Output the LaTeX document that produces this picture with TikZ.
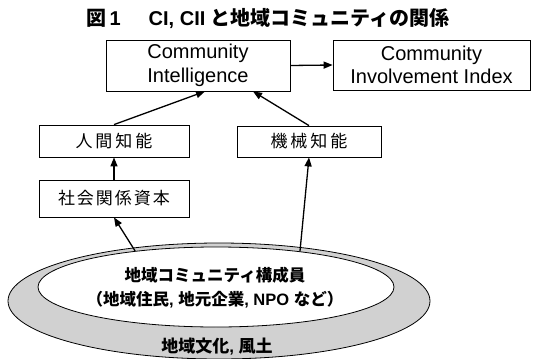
\documentclass[tikz,border=0pt]{standalone}
\usepackage{fontspec}
\setmainfont{Liberation Sans}
\newfontfamily\jp{Noto Sans CJK JP}
\usetikzlibrary{arrows.meta,shapes.geometric}
\begin{document}
\begin{tikzpicture}[x=1pt,y=-1pt,
  box/.style={draw,line width=0.8pt,inner sep=0pt,align=center},
  conn/.style={line width=1.3pt,-{Triangle[length=9pt,width=7pt]}},
  ell/.style={draw,line width=0.8pt,ellipse,inner sep=0pt},
  jpbox/.style={box,font=\jp\fontsize{17}{20}\selectfont},
  elltext/.style={font=\bfseries\fontsize{16.5}{18}\selectfont}]
\useasboundingbox (0,0) rectangle (536,359);
\node[font=\bfseries\fontsize{20}{22}\selectfont] (title) at (268,18) {{\jp 図}\,1\hspace{28pt}CI, CII {\jp と地域コミュニティの関係}};
\node[box,minimum width=184pt,minimum height=51pt,font=\fontsize{20}{23.5}\selectfont] (ci) at (198,65.5) {Community\\Intelligence};
\node[box,minimum width=197pt,minimum height=50pt,font=\fontsize{20}{23.5}\selectfont] (cii) at (431.5,65) {Community\\Involvement Index};
\node[jpbox,minimum width=150pt,minimum height=32pt] (hum) at (114,141) {人\kern3pt 間\kern3pt 知\kern3pt 能};
\node[jpbox,minimum width=144pt,minimum height=31pt] (mach) at (309,141.5) {機\kern3pt 械\kern3pt 知\kern3pt 能};
\node[jpbox,minimum width=150pt,minimum height=37pt] (soc) at (114,198.5) {社\kern2pt 会\kern2pt 関\kern2pt 係\kern2pt 資\kern2pt 本};
\node[ell,fill=black!18,minimum width=422pt,minimum height=116pt] (outer) at (219,301) {};
\node[ell,fill=white,minimum width=356pt,minimum height=80pt] (inner) at (216,287) {};
\node[elltext] (members) at (215,275) {\jp 地域コミュニティ構成員};
\node[elltext] (examples) at (215,300) {{\jp （地域住民}, {\jp 地元企業}, NPO {\jp など）}};
\node[elltext,font=\bfseries\fontsize{17}{19}\selectfont] (culture) at (217,347) {{\jp 地域文化}, {\jp 風土}};
\draw[conn] (ci.east) -- (cii.west);
\draw[conn] (hum.north) -- ([xshift=7pt]ci.south);
\draw[conn] (mach.north) -- ([xshift=55pt]ci.south);
\draw[conn] (soc.north) -- (hum.south);
\draw[conn] (inner.156) -- (soc.south);
\draw[conn] (inner.23) -- (mach.south);
\end{tikzpicture}
\end{document}
